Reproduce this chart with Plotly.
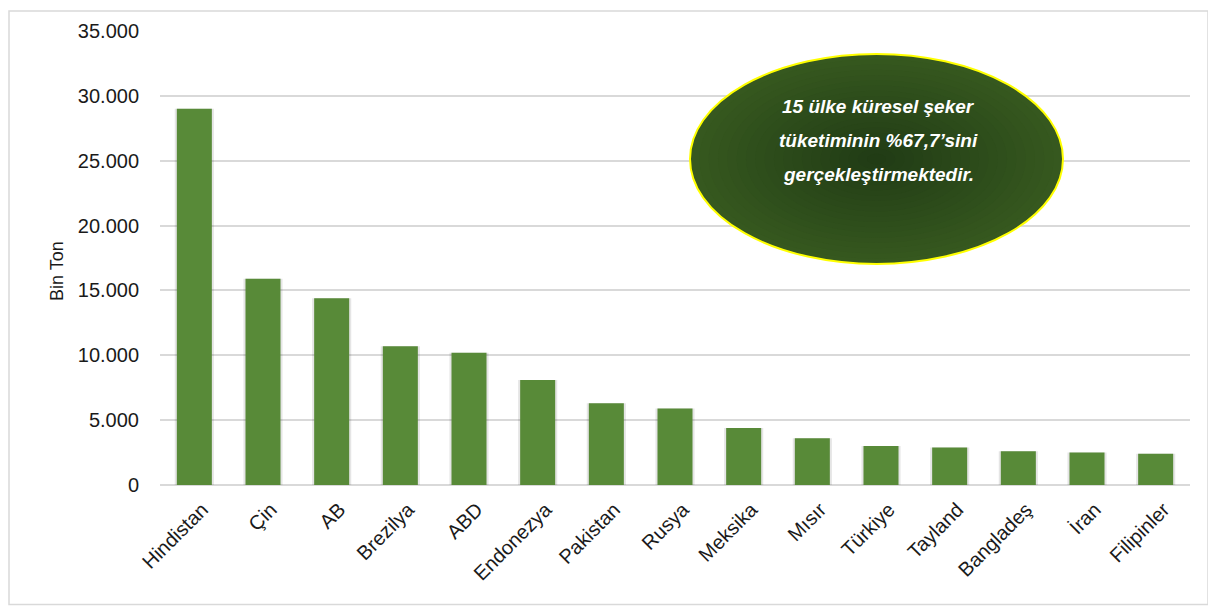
import plotly.graph_objects as go

# data (bin ton)
countries = ["Hindistan", "Çin", "AB", "Brezilya", "ABD", "Endonezya", "Pakistan", "Rusya",
             "Meksika", "Mısır", "Türkiye", "Tayland", "Bangladeş", "İran", "Filipinler"]
consumption = [29000, 15900, 14400, 10700, 10200, 8100, 6300, 5900,
               4400, 3600, 3000, 2900, 2600, 2500, 2400]
y_ticks = [0, 5000, 10000, 15000, 20000, 25000, 30000, 35000]
note_lines = ["15 ülke küresel şeker", "tüketiminin %67,7’sini", "gerçekleştirmektedir."]

# page has an 8px body margin, so the figure is a bit smaller than the window
OFF = 8
W, H = 1208, 600
L, R, T, B = 152, 26, 21, 123
PW, PH = W - L - R, H - T - B

def to_paper_x(px):  # px = page pixel
    return (px - OFF - L) / PW
def to_paper_y(py):
    return (H - B - (py - OFF)) / PH

fig = go.Figure()

# soft shadow behind the bars
fig.add_trace(go.Bar(x=countries, y=consumption, width=0.57,
                     marker=dict(color="rgba(0,0,0,0.10)", line=dict(width=0)),
                     hoverinfo="skip", showlegend=False))
fig.add_trace(go.Bar(x=countries, y=consumption, width=0.51,
                     marker=dict(color="#588a38", line=dict(width=0)),
                     showlegend=False))

# ── ellipse callout (layered for a radial look) ──────────────────────────
px0, px1, py0, py1 = 690, 1063, 52, 263
cx, cy = (px0 + px1) / 2, (py0 + py1) / 2
rx, ry = (px1 - px0) / 2, (py1 - py0) / 2
edge, core = (0x36, 0x58, 0x1f), (0x21, 0x3c, 0x15)
n_layers = 20
shapes = []
for i in range(n_layers):
    f = 1 - i / n_layers
    t = i / (n_layers - 1)
    c = tuple(round(e + (k - e) * t) for e, k in zip(edge, core))
    shapes.append(dict(type="circle", xref="paper", yref="paper",
                       x0=to_paper_x(cx - rx * f), x1=to_paper_x(cx + rx * f),
                       y0=to_paper_y(cy + ry * f), y1=to_paper_y(cy - ry * f),
                       fillcolor="rgb(%d,%d,%d)" % c, line=dict(width=0), layer="above"))
shapes.append(dict(type="circle", xref="paper", yref="paper",
                   x0=to_paper_x(px0), x1=to_paper_x(px1),
                   y0=to_paper_y(py1), y1=to_paper_y(py0),
                   fillcolor="rgba(0,0,0,0)", line=dict(color="#ffff00", width=2),
                   layer="above"))
# outer chart border
shapes.append(dict(type="rect", xref="paper", yref="paper",
                   x0=to_paper_x(9), x1=to_paper_x(1208),
                   y0=to_paper_y(605), y1=to_paper_y(OFF + 1),
                   line=dict(color="#d9d9d9", width=1.5), fillcolor="rgba(0,0,0,0)",
                   layer="below"))

annotations = []
for k, txt in enumerate(note_lines):
    annotations.append(dict(text=f"<b><i>{txt}</i></b>", x=to_paper_x(878), y=to_paper_y(105 + k * 34),
                            xref="paper", yref="paper", xanchor="center", yanchor="middle",
                            showarrow=False,
                            font=dict(size=19, color="white", family="Liberation Sans, Arial")))
annotations.append(dict(text="Bin Ton", textangle=-90, x=to_paper_x(57), y=to_paper_y(270),
                        xref="paper", yref="paper", xanchor="center", yanchor="middle",
                        showarrow=False,
                        font=dict(size=18, color="#1a1a1a", family="Liberation Sans, Arial")))

fig.update_layout(
    width=W, height=H,
    margin=dict(l=L, r=R, t=T, b=B),
    paper_bgcolor="white", plot_bgcolor="white",
    font=dict(family="Liberation Sans, Arial", size=19, color="#1a1a1a"),
    separators=",.",
    barmode="overlay",
    shapes=shapes,
    annotations=annotations,
)
fig.update_yaxes(range=[0, 35000], tickvals=y_ticks, tickformat=",d",
                 showgrid=True, gridcolor="#d9d9d9", gridwidth=1.5,
                 zeroline=True, zerolinecolor="#d9d9d9", zerolinewidth=2,
                 showline=False, ticks="", ticklabelstandoff=20,
                 tickfont=dict(size=20))
fig.update_xaxes(tickangle=-45, showline=False, ticks="", showgrid=False,
                 tickfont=dict(size=20), ticklabelstandoff=8, ticklabelshift=8)

fig.write_html("out.html")
